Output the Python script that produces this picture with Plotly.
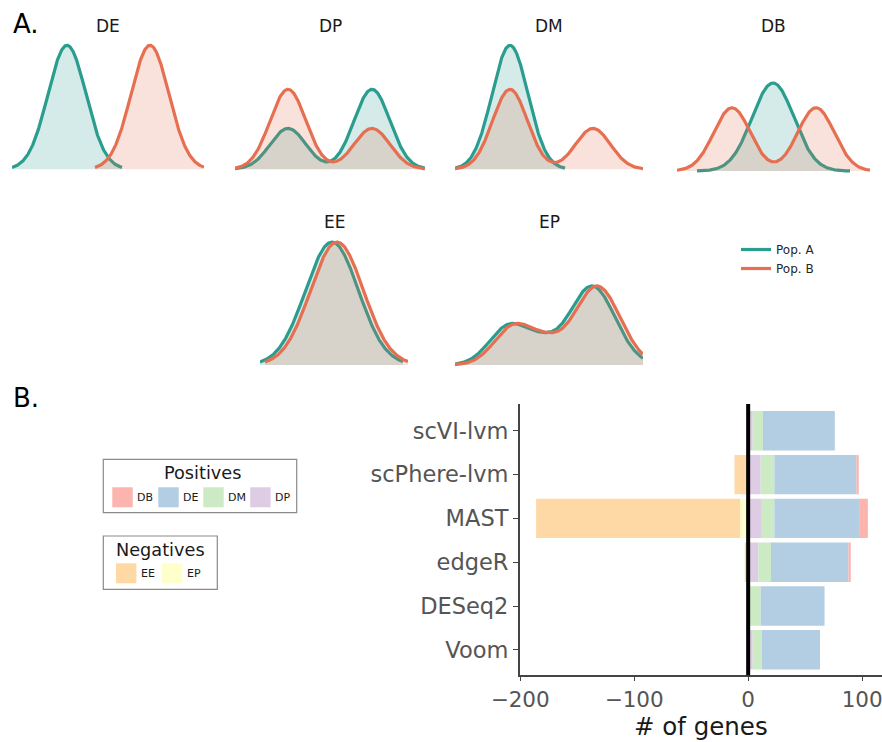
import numpy as np
import plotly.graph_objects as go

FIG_W, FIG_H = 882, 742

# ---------------- Panel A: illustrative densities ----------------
PANELS = ["DE", "DP", "DM", "DB", "EE", "EP"]
# mixture components (mean, sd, peak height) for each population
DE_A = [(5.5, 1.9, 1.00)]
DE_B = [(13.8, 1.9, 1.00)]
DP_A = [(5.3, 1.8, 0.33), (13.7, 1.8, 0.645)]
DP_B = [(5.3, 1.8, 0.645), (13.7, 1.8, 0.33)]
DM_A = [(5.5, 1.8, 1.00)]
DM_B = [(5.5, 1.75, 0.645), (13.8, 1.75, 0.33)]
DB_A = [(9.6, 2.1, 0.71)]
DB_B = [(5.5, 1.83, 0.51), (13.9, 1.83, 0.51)]
EE_A = [(7.2, 2.65, 1.00)]
EE_B = [(7.7, 2.65, 1.00)]
EP_A = [(5.5, 2.0, 0.325), (8.8, 1.5, 0.114), (13.7, 2.3, 0.642)]
EP_B = [(6.0, 2.0, 0.325), (9.3, 1.5, 0.114), (14.2, 2.3, 0.642)]
# support of each curve (start, end)
SPAN_A = [(0.0, 11.0), (0.0, 19.0), (0.0, 11.0), (2.0, 17.3), (0.0, 14.3), (0.0, 18.8)]
SPAN_B = [(8.3, 19.2), (0.0, 19.0), (0.0, 18.8), (0.0, 19.3), (0.5, 14.8), (0.0, 18.8)]
PANEL_XMAX = [19.2, 19.0, 18.8, 19.3, 14.8, 18.8]
POPULATIONS = ["Pop. A", "Pop. B"]

COMP_A = [DE_A, DP_A, DM_A, DB_A, EE_A, EP_A]
COMP_B = [DE_B, DP_B, DM_B, DB_B, EE_B, EP_B]

# ---------------- Panel B: number of genes ----------------
METHODS = ["scVI-lvm", "scPhere-lvm", "MAST", "edgeR", "DESeq2", "Voom"]
GENES_DP = [4, 11, 12, 9, 1, 4]
GENES_DM = [9, 12, 11, 11, 10, 8]
GENES_DE = [63, 72, 75, 68, 56, 51]
GENES_DB = [0, 2, 7, 2, 0, 0]
GENES_EP = [0, 0, -7, 0, 0, 0]
GENES_EE = [0, -12, -179, -3, 0, 0]
X_TICKS = [-200, -100, 0, 100]
POSITIVE_CLASSES = ["DB", "DE", "DM", "DP"]
NEGATIVE_CLASSES = ["EE", "EP"]

# ---------------- styling / layout ----------------
TEAL = "#2a9d8f"
ORANGE = "#e76f51"
TEAL_FILL = "rgba(42,157,143,0.2)"
ORANGE_FILL = "rgba(231,111,81,0.2)"
PASTEL = {"DB": "#fbb4ae", "DE": "#b3cde3", "DM": "#ccebc5",
          "DP": "#decbe4", "EE": "#fed9a6", "EP": "#ffffcc"}
FONT = "DejaVu Sans"

PANEL_LEFT_PX = [12, 235, 455, 677, 260, 455]
PANEL_BASE_PX = [169.3, 169.3, 169.3, 171, 365, 365]
PANEL_UNIT_PX = [124, 124, 124, 124, 123, 123]
TITLE_Y_PX = [26, 26, 26, 26, 222, 222]
PX_PER_X = 10.0
Y_LO, Y_HI = -0.03, 1.06


def fx(px):
    return px / FIG_W


def fy(py):
    return 1 - py / FIG_H


def mixture(x, comps):
    y = np.zeros_like(x)
    for m, s, a in comps:
        y += a * np.exp(-0.5 * ((x - m) / s) ** 2)
    return y


fig = go.Figure()
layout_axes = {}
annotations = []
shapes = []

for i, name in enumerate(PANELS):
    ax = i + 1
    xa, ya = f"x{ax}", f"y{ax}"
    for comps, span, col, fillc, pop in [
        (COMP_A[i], SPAN_A[i], TEAL, TEAL_FILL, POPULATIONS[0]),
        (COMP_B[i], SPAN_B[i], ORANGE, ORANGE_FILL, POPULATIONS[1]),
    ]:
        x = np.linspace(span[0], span[1], 400)
        y = mixture(x, comps)
        fig.add_trace(go.Scatter(
            x=x, y=y, mode="lines", fill="tozeroy", fillcolor=fillc,
            line=dict(color=col, width=3.2), name=pop, legendgroup=pop,
            showlegend=False, xaxis=xa, yaxis=ya, hoverinfo="skip"))
    left = PANEL_LEFT_PX[i]
    right = left + PANEL_XMAX[i] * PX_PER_X
    base = PANEL_BASE_PX[i]
    unit = PANEL_UNIT_PX[i]
    bottom_px = base - Y_LO * unit
    top_px = base - Y_HI * unit
    key = "" if ax == 1 else str(ax)
    layout_axes[f"xaxis{key}"] = dict(domain=[fx(left), fx(right)], range=[0, PANEL_XMAX[i]],
                                      visible=False, anchor=ya, fixedrange=True)
    layout_axes[f"yaxis{key}"] = dict(domain=[fy(bottom_px), fy(top_px)], range=[Y_LO, Y_HI],
                                      visible=False, anchor=xa, fixedrange=True)
    annotations.append(dict(text=name, x=fx((left + right) / 2), y=fy(TITLE_Y_PX[i]),
                            xref="paper", yref="paper", showarrow=False,
                            xanchor="center", yanchor="middle",
                            font=dict(size=17, color="#1a1a1a", family=FONT)))

# legend entries (line only, like the reference)
for pop, col in zip(POPULATIONS, [TEAL, ORANGE]):
    fig.add_trace(go.Scatter(x=[None], y=[None], mode="lines", name=pop, legendgroup=pop,
                             line=dict(color=col, width=3.2), showlegend=True,
                             xaxis="x", yaxis="y", hoverinfo="skip"))

# ---- bar chart ----
bar_specs = [("DP", GENES_DP), ("DM", GENES_DM), ("DE", GENES_DE), ("DB", GENES_DB),
             ("EP", GENES_EP), ("EE", GENES_EE)]
for nm, vals in bar_specs:
    fig.add_trace(go.Bar(
        y=METHODS, x=vals, orientation="h", name=nm,
        marker=dict(color=PASTEL[nm], line=dict(width=0)),
        width=0.9, showlegend=False,
        xaxis="x7", yaxis="y7", hoverinfo="skip"))

AX_COL = "#444444"
TICK_COL = "#555555"
layout_axes["xaxis7"] = dict(
    domain=[fx(519.7), 1.0], range=[-200.4, 117.4], anchor="y7",
    showline=True, linecolor=AX_COL, linewidth=1.5, mirror=False,
    ticks="outside", ticklen=4, tickwidth=1.3, tickcolor=AX_COL,
    tickvals=X_TICKS, tickfont=dict(size=21.5, color=TICK_COL, family=FONT),
    ticklabeloverflow="allow",
    showgrid=False, zeroline=False, automargin=False, fixedrange=True,
    title=dict(text="# of genes", font=dict(size=24.5, color="#1a1a1a", family=FONT), standoff=6))
layout_axes["yaxis7"] = dict(
    domain=[fy(675.3), fy(404)], range=[-0.582, 5.612], anchor="x7",
    categoryorder="array", categoryarray=METHODS[::-1], type="category",
    showline=True, linecolor=AX_COL, linewidth=1.5,
    ticks="outside", ticklen=5, tickwidth=1.3, tickcolor=AX_COL,
    tickfont=dict(size=22.5, color=TICK_COL, family=FONT),
    showgrid=False, zeroline=False, automargin=False, fixedrange=True)

shapes.append(dict(type="line", xref="x7", yref="y7 domain", x0=0, x1=0, y0=0, y1=1,
                   line=dict(color="black", width=4), layer="above"))

# ---- class legends for the bar chart (drawn boxes) ----
def class_legend(title, classes, box, title_xy, sw_x, sw_y, lab_x):
    x0, y0, x1, y1 = box
    shapes.append(dict(type="rect", xref="paper", yref="paper",
                       x0=fx(x0), x1=fx(x1), y0=fy(y1), y1=fy(y0),
                       line=dict(color="#8a8a8a", width=1.2), fillcolor="white",
                       layer="above"))
    annotations.append(dict(text=title, x=fx(title_xy[0]), y=fy(title_xy[1]),
                            xref="paper", yref="paper", showarrow=False,
                            xanchor="center", yanchor="middle",
                            font=dict(size=17.7, color="#1a1a1a", family=FONT)))
    for c, sx, lx in zip(classes, sw_x, lab_x):
        shapes.append(dict(type="rect", xref="paper", yref="paper",
                           x0=fx(sx), x1=fx(sx + 20.4), y0=fy(sw_y + 20), y1=fy(sw_y),
                           line=dict(width=0), fillcolor=PASTEL[c], layer="above"))
        annotations.append(dict(text=c, x=fx(lx), y=fy(sw_y + 10), xref="paper", yref="paper",
                                showarrow=False, xanchor="left", yanchor="middle",
                                font=dict(size=11, color="#1a1a1a", family=FONT)))


class_legend("Positives", POSITIVE_CLASSES, (103.3, 459.3, 296.7, 512.7), (202, 472.5),
             [112.3, 158.3, 203.3, 250.2], 487.3, [135.2, 180.8, 225.8, 272.8])
class_legend("Negatives", NEGATIVE_CLASSES, (103.3, 536.0, 217.3, 589.3), (160, 549.5),
             [116.0, 162.0], 563.3, [138.8, 185.2])

annotations.append(dict(text="A.", x=fx(11), y=fy(24), xref="paper", yref="paper",
                        showarrow=False, xanchor="left", yanchor="middle",
                        font=dict(size=26, color="black", family=FONT)))
annotations.append(dict(text="B.", x=fx(11), y=fy(398), xref="paper", yref="paper",
                        showarrow=False, xanchor="left", yanchor="middle",
                        font=dict(size=26, color="black", family=FONT)))

fig.update_layout(
    width=FIG_W, height=FIG_H, margin=dict(l=0, r=0, t=0, b=0),
    paper_bgcolor="white", plot_bgcolor="rgba(0,0,0,0)",
    font=dict(family=FONT, color="#262626"),
    barmode="relative", bargap=0.1,
    showlegend=True, hovermode=False,
    legend=dict(x=fx(736), y=fy(235), xanchor="left", yanchor="top",
                bgcolor="rgba(0,0,0,0)", borderwidth=0, itemwidth=30,
                font=dict(size=12, color="#262626", family=FONT), tracegroupgap=0),
    annotations=annotations, shapes=shapes,
    **layout_axes)

fig.write_html("out.html", config={"displayModeBar": False},
               post_script="document.body.style.margin='0px';document.body.style.overflow='hidden';")
